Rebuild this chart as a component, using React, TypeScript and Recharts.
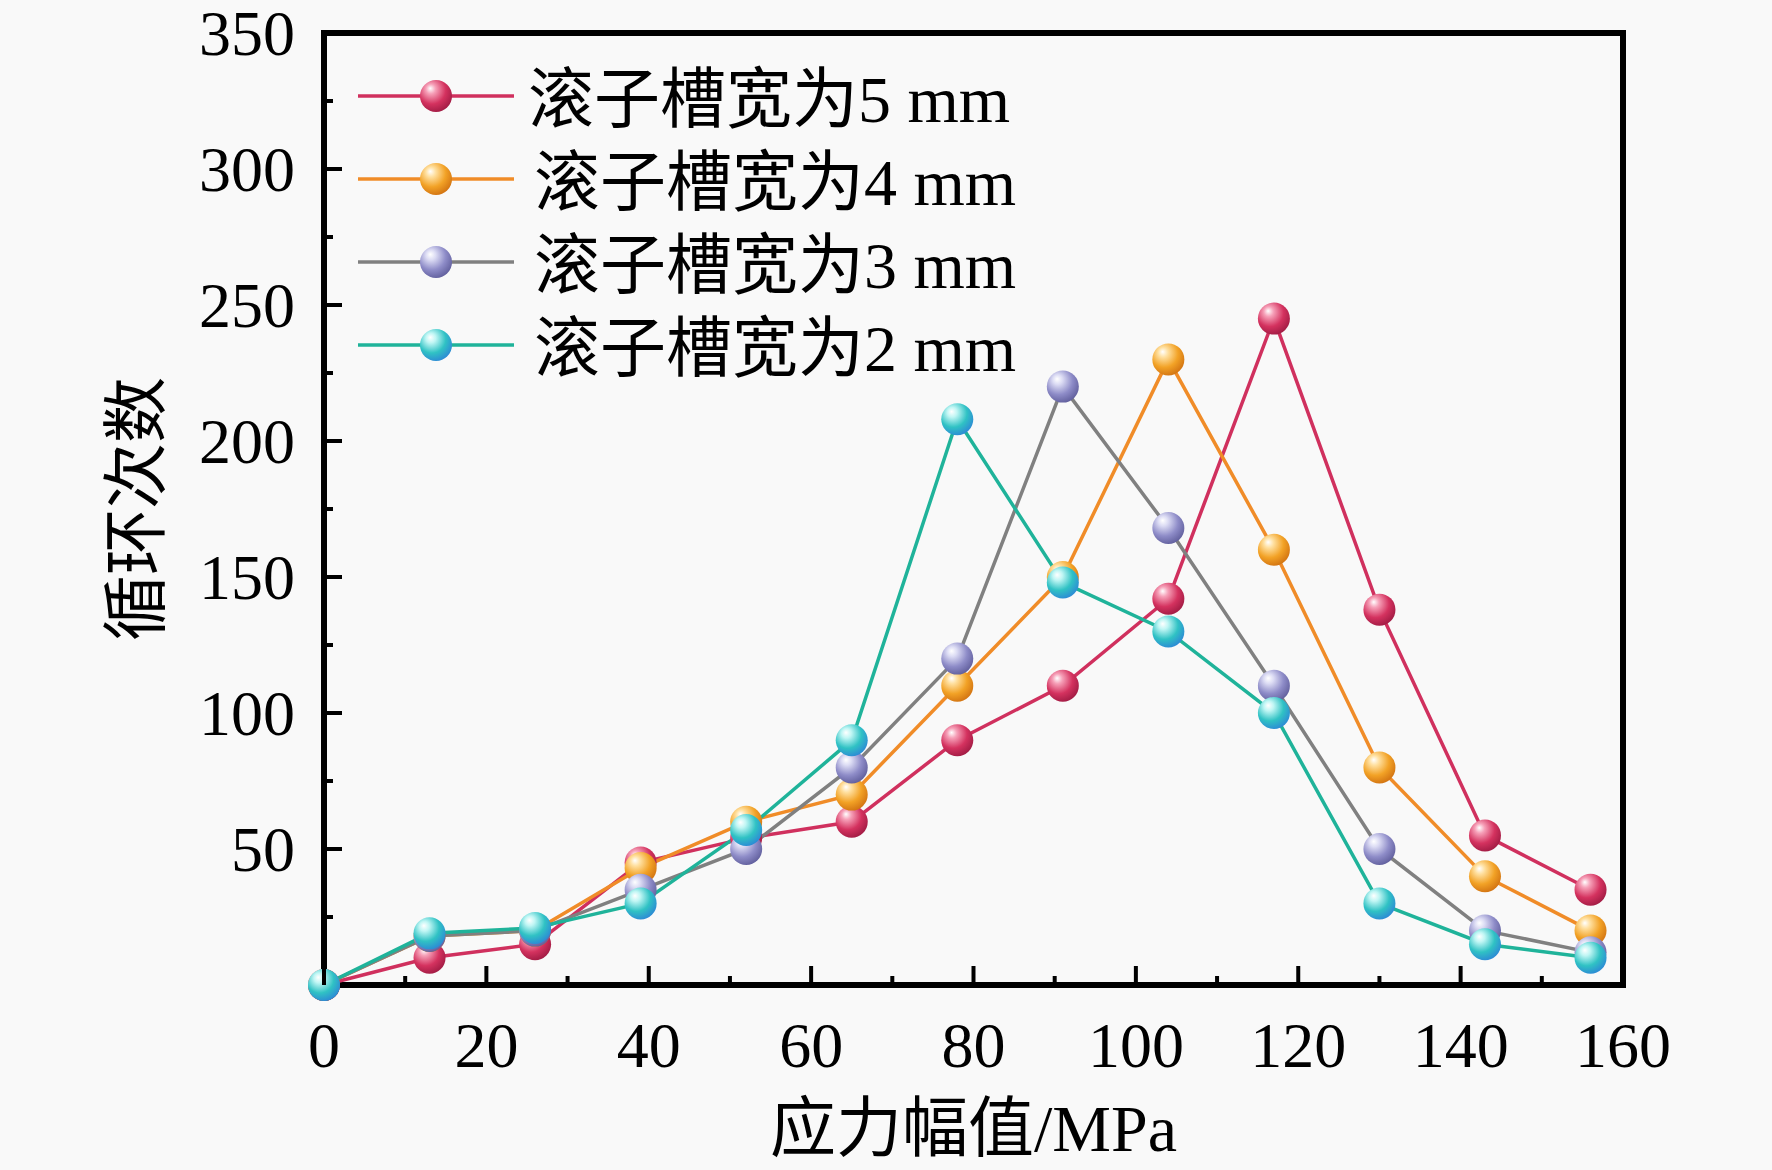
import React from 'react';
import { LineChart, Line, XAxis, YAxis, ReferenceArea, Legend } from 'recharts';

// ---- data ----
const stressAmplitude = [0, 13, 26, 39, 52, 65, 78, 91, 104, 117, 130, 143, 156];
const cycles5mm = [0, 10, 15, 45, 54, 60, 90, 110, 142, 245, 138, 55, 35];
const cycles4mm = [0, 18, 20, 43, 60, 70, 110, 150, 230, 160, 80, 40, 20];
const cycles3mm = [0, 18, 20, 35, 50, 80, 120, 220, 168, 110, 50, 20, 12];
const cycles2mm = [0, 19, 21, 30, 57, 90, 208, 148, 130, 100, 30, 15, 10];

const seriesNames = ['滚子槽宽为5 mm', '滚子槽宽为4 mm', '滚子槽宽为3 mm', '滚子槽宽为2 mm'];
const xTicks = [0, 10, 20, 30, 40, 50, 60, 70, 80, 90, 100, 110, 120, 130, 140, 150, 160];
const yTicks = [25, 50, 75, 100, 125, 150, 175, 200, 225, 250, 275, 300, 325, 350];
const xTitle = '应力幅值/MPa';
const yTitle = '循环次数';

const data = stressAmplitude.map((x, i) => ({
  x,
  s5: cycles5mm[i],
  s4: cycles4mm[i],
  s3: cycles3mm[i],
  s2: cycles2mm[i],
}));

// ---- styles ----
const FONT = "'Liberation Serif', 'Times New Roman', 'Noto Sans CJK SC', serif";
const FS = 64;
const FS_TITLE = 66;

const series = [
  { key: 's5', name: seriesNames[0], line: '#D0305E', grad: 'sph5', light: '#F6A0B8', base: '#D4325F', dark: '#9E1A42' },
  { key: 's4', name: seriesNames[1], line: '#F08C28', grad: 'sph4', light: '#FFE0A0', base: '#F2A226', dark: '#D07010' },
  { key: 's3', name: seriesNames[2], line: '#808080', grad: 'sph3', light: '#DCDCF4', base: '#8E8CC8', dark: '#5E5C9A' },
  { key: 's2', name: seriesNames[3], line: '#1FB39A', grad: 'sph2', light: '#C0F6F4', base: '#30C2C4', dark: '#2C86D6' },
];

const R = 16;

const makeDot = (gradId: string) => (props: any) => {
  const { cx, cy, index } = props;
  if (cx == null || cy == null) return <g key={`${gradId}-e-${index}`} />;
  return <circle key={`${gradId}-${index}`} cx={cx} cy={cy} r={R} fill={`url(#${gradId})`} />;
};

const YTick = (props: any) => {
  const { x, y, payload } = props;
  const v = payload.value;
  const major = v % 50 === 0;
  return (
    <g>
      <line x1={x} x2={x + (major ? 18 : 9)} y1={y} y2={y} stroke="#000" strokeWidth={4} />
      {major && (
        <text x={x - 29} y={y + 22} textAnchor="end" fontFamily={FONT} fontSize={FS} fill="#000">
          {v}
        </text>
      )}
    </g>
  );
};

const XTick = (props: any) => {
  const { x, y, payload } = props;
  const v = payload.value;
  const major = v % 20 === 0;
  return (
    <g>
      <line x1={x} x2={x} y1={y} y2={y - (major ? 19 : 9)} stroke="#000" strokeWidth={4} />
      {major && (
        <text x={x} y={y + 82} textAnchor="middle" fontFamily={FONT} fontSize={FS} fill="#000">
          {v}
        </text>
      )}
    </g>
  );
};

const XTitle = (props: any) => {
  const vb = props.viewBox || {};
  return (
    <text
      x={vb.x + vb.width / 2}
      y={vb.y + 143}
      textAnchor="middle"
      dominantBaseline="central"
      fontFamily={FONT}
      fontSize={FS_TITLE}
      fill="#000"
    >
      {xTitle}
    </text>
  );
};

const YTitle = (props: any) => {
  const vb = props.viewBox || {};
  const cx = 136;
  const cy = vb.y + vb.height / 2;
  return (
    <text
      x={cx}
      y={cy}
      textAnchor="middle"
      dominantBaseline="central"
      transform={`rotate(-90 ${cx} ${cy})`}
      fontFamily={FONT}
      fontSize={FS_TITLE}
      fill="#000"
    >
      {yTitle}
    </text>
  );
};

const LegendContent = () => (
  <div style={{ display: 'flex', flexDirection: 'column' }}>
    {series.map((s, i) => (
      <div key={s.key} style={{ display: 'flex', alignItems: 'center', height: 83 }}>
        <svg width={156} height={40} style={{ display: 'block' }}>
          <line x1={0} x2={156} y1={20} y2={20} stroke={s.line} strokeWidth={3.5} />
          <circle cx={78} cy={20} r={R} fill={`url(#${s.grad})`} />
        </svg>
        <span
          style={{
            marginLeft: i === 0 ? 14 : 20,
            fontFamily: FONT,
            fontSize: 66,
            lineHeight: '83px',
            paddingTop: 8,
            color: '#000',
            whiteSpace: 'nowrap',
          }}
        >
          {s.name}
        </span>
      </div>
    ))}
  </div>
);

export default function App() {
  return (
    <div
      style={{
        position: 'absolute',
        left: 0,
        top: 0,
        width: 1772,
        height: 1170,
        background: '#F9F9F9',
      }}
    >
      <svg width={0} height={0} style={{ position: 'absolute' }}>
        <defs>
          {series.map((s) => (
            <radialGradient key={s.grad} id={s.grad} cx="40%" cy="35%" r="70%" fx="32%" fy="26%">
              <stop offset="0%" stopColor="#FFFFFF" />
              <stop offset="22%" stopColor={s.light} />
              <stop offset="62%" stopColor={s.base} />
              <stop offset="100%" stopColor={s.dark} />
            </radialGradient>
          ))}
        </defs>
      </svg>
      <LineChart
        width={1772}
        height={1170}
        data={data}
        margin={{ top: 33, right: 149, bottom: 0, left: 0 }}
      >
        <ReferenceArea
          x1={0}
          x2={160}
          y1={0}
          y2={350}
          fill="none"
          stroke="#000"
          strokeWidth={6}
          ifOverflow="visible"
        />
        <XAxis
          dataKey="x"
          type="number"
          domain={[0, 160]}
          ticks={xTicks}
          interval={0}
          height={185}
          axisLine={false}
          tickLine={false}
          tickSize={0}
          tickMargin={0}
          tick={<XTick />}
          label={<XTitle />}
        />
        <YAxis
          type="number"
          domain={[0, 350]}
          ticks={yTicks}
          interval={0}
          width={324}
          axisLine={false}
          tickLine={false}
          tickSize={0}
          tickMargin={0}
          tick={<YTick />}
          label={<YTitle />}
        />
        <Legend
          layout="vertical"
          align="center"
          verticalAlign="middle"
          content={<LegendContent />}
          wrapperStyle={{ position: 'absolute', left: 358, top: 54, width: 760 }}
        />
        {series.map((s) => (
          <Line
            key={s.key}
            type="linear"
            dataKey={s.key}
            name={s.name}
            stroke={s.line}
            strokeWidth={3.5}
            dot={makeDot(s.grad)}
            activeDot={false}
            isAnimationActive={false}
          />
        ))}
      </LineChart>
    </div>
  );
}
